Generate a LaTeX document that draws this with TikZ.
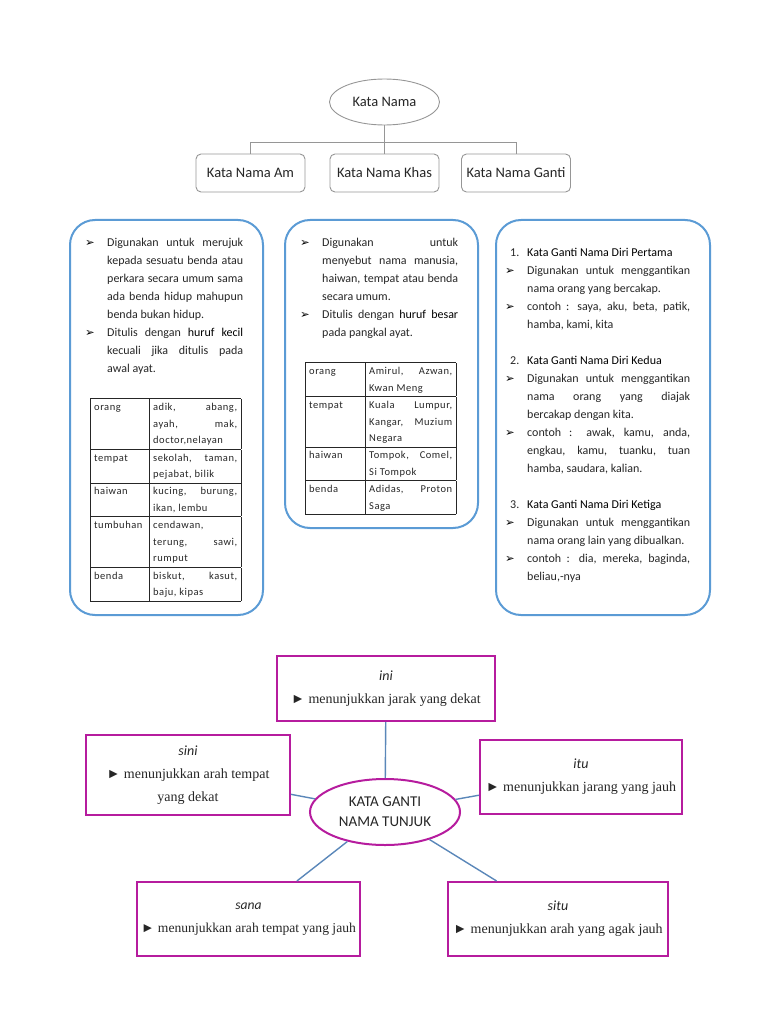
\documentclass[tikz,border=0pt]{standalone}
\usepackage{fontspec}
\setmainfont{Carlito}
\newfontfamily\timesfont{Liberation Serif}
\newfontfamily\arrowfont{DejaVu Sans}
\newfontfamily\tablefont[LetterSpace=5]{Carlito}
\usetikzlibrary{shapes.geometric}
\definecolor{linegrey}{RGB}{150,150,150}
\definecolor{panelblue}{RGB}{91,155,213}
\definecolor{tunjukpink}{RGB}{182,28,158}
\definecolor{linkblue}{RGB}{90,135,185}
\tikzset{
  panel/.style={rectangle, rounded corners=25pt, draw=panelblue, line width=2pt, inner sep=0pt},
  tunjuk/.style={rectangle, draw=tunjukpink, line width=2pt, align=center, text=black!85,
                 font=\timesfont\fontsize{14}{23}\selectfont},
  link/.style={draw=linkblue, line width=1.4pt},
}
\newcommand{\pointer}{\hspace*{-22pt}\makebox[22pt][l]{\color{black}\arrowfont\fontsize{11.5}{11.5}\selectfont ➢}}
\newcommand{\nombor}[1]{\hspace*{-17pt}\makebox[17pt][l]{#1}}
\newcommand{\penting}[1]{{\color{black}#1}}
\hyphenpenalty=10000
\exhyphenpenalty=10000
\begin{document}
\begin{tikzpicture}[x=1pt, y=-1pt,
        kind/.style={rectangle, rounded corners=5pt, draw=linegrey, line width=0.9pt, minimum width=109pt,
                     minimum height=38pt, text=black!85, font=\fontsize{14.5}{17}\selectfont},
        info/.style={anchor=north west, inner sep=0pt, align=justify, text=black!85, font=\fontsize{12}{18}\selectfont},
        grid/.style={anchor=north west, inner sep=0pt, text=black!85, font=\tablefont\fontsize{10.5}{16.5}\selectfont},
        branch/.style={draw=linegrey, line width=0.9pt}
    ]
    \useasboundingbox (0,0) rectangle (768,1024);

    % Kata Nama tree
    \node[ellipse, draw=linegrey, line width=0.9pt, minimum width=110pt, minimum height=46pt,
          text=black!85, font=\fontsize{14.5}{17}\selectfont] (kataNama) at (384.5,102) {Kata Nama};
    \node[kind] (namaAm) at (250.5,173) {Kata Nama Am};
    \node[kind] (namaKhas) at (384.5,173) {Kata Nama Khas};
    \node[kind] (namaGanti) at (516,173) {Kata Nama Ganti};
    \coordinate (split) at (384.5,142);
    \draw[branch] (kataNama) -- (namaKhas);
    \draw[branch] (split) -| (namaAm);
    \draw[branch] (split) -| (namaGanti);

    % Panels
    \node[panel, minimum width=193pt, minimum height=395pt] (panelAm) at (166.5,417.5) {};
    \node[panel, minimum width=193pt, minimum height=308pt] (panelKhas) at (381.5,374) {};
    \node[panel, minimum width=214pt, minimum height=395pt] (panelGanti) at (603,417.5) {};

    % Kata Nama Am
    \node[info, text width=158pt] (amText) at (85,238) {\parindent=0pt\leftskip=22pt
        \pointer Digunakan untuk merujuk\linebreak kepada sesuatu benda atau\linebreak
        perkara secara umum sama\linebreak ada benda hidup mahupun\linebreak benda bukan hidup.\par
        \pointer Ditulis dengan \penting{huruf kecil}\linebreak kecuali jika ditulis pada\linebreak awal ayat.\par};
    \node[grid] (amTable) at (90,398) {\arrayrulewidth=0.9pt\tabcolsep=4pt
        \begin{tabular}{|p{51pt}|p{84pt}|}
        \hline
        orang & adik, abang,\linebreak ayah, mak,\linebreak doctor,nelayan\\ \hline
        tempat & sekolah, taman,\linebreak pejabat, bilik\\ \hline
        haiwan & kucing, burung,\linebreak ikan, lembu\\ \hline
        tumbuhan & cendawan,\newline terung, sawi,\linebreak rumput\\ \hline
        benda & biskut, kasut,\linebreak baju, kipas\\ \hline
        \end{tabular}};

    % Kata Nama Khas
    \node[info, text width=158pt] (khasText) at (300,238) {\parindent=0pt\leftskip=22pt
        \pointer Digunakan untuk\linebreak menyebut nama manusia,\linebreak
        haiwan, tempat atau benda\linebreak secara umum.\par
        \pointer Ditulis dengan \penting{huruf besar}\linebreak pada pangkal ayat.\par};
    \node[grid] (khasTable) at (305,362) {\arrayrulewidth=0.9pt\tabcolsep=4pt
        \begin{tabular}{|p{52pt}|p{83pt}|}
        \hline
        orang & Amirul, Azwan,\linebreak Kwan Meng\\ \hline
        tempat & Kuala Lumpur,\linebreak Kangar, Muzium\linebreak Negara\\ \hline
        haiwan & Tompok, Comel,\linebreak Si Tompok\\ \hline
        benda & Adidas, Proton\linebreak Saga\\ \hline
        \end{tabular}};

    % Kata Nama Ganti
    \node[info, text width=185pt] (gantiText) at (505,248.5) {\parindent=0pt\leftskip=22pt
        \nombor{1.}\penting{Kata Ganti Nama Diri Pertama}\par
        \pointer Digunakan untuk menggantikan\linebreak nama orang yang bercakap.\par
        \pointer contoh : saya, aku, beta, patik,\linebreak hamba, kami, kita\par
        \vspace{18pt}
        \nombor{2.}\penting{Kata Ganti Nama Diri Kedua}\par
        \pointer Digunakan untuk menggantikan\linebreak nama orang yang diajak\linebreak bercakap dengan kita.\par
        \pointer contoh : awak, kamu, anda,\linebreak engkau, kamu, tuanku, tuan\linebreak hamba, saudara, kalian.\par
        \vspace{18pt}
        \nombor{3.}\penting{Kata Ganti Nama Diri Ketiga}\par
        \pointer Digunakan untuk menggantikan\linebreak nama orang lain yang dibualkan.\par
        \pointer contoh : dia, mereka, baginda,\linebreak beliau,-nya\par};

    % Kata Ganti Nama Tunjuk
    \node[ellipse, draw=tunjukpink, line width=2pt, minimum width=150pt, minimum height=66pt, align=center,
          text=black!85, font=\fontsize{15}{20}\selectfont] (pusat) at (385,812) {KATA GANTI\\NAMA TUNJUK};
    \node[tunjuk, minimum width=218pt, minimum height=65pt] (ini) at (386,688.5)
        {{\normalfont\itshape ini}\\► menunjukkan jarak yang dekat};
    \node[tunjuk, minimum width=204pt, minimum height=80pt] (sini) at (188,775)
        {{\normalfont\itshape sini}\\► menunjukkan arah tempat\\yang dekat};
    \node[tunjuk, minimum width=202pt, minimum height=74pt] (itu) at (581,777)
        {{\normalfont\itshape itu}\\► menunjukkan jarang yang jauh};
    \node[tunjuk, minimum width=223pt, minimum height=74pt, font=\timesfont\fontsize{13.6}{23}\selectfont] (sana) at (248.5,919)
        {{\normalfont\itshape sana}\\► menunjukkan arah tempat yang jauh};
    \node[tunjuk, minimum width=220pt, minimum height=74pt] (situ) at (558,919)
        {{\normalfont\itshape situ}\\► menunjukkan arah yang agak jauh};

    \draw[link] (ini) -- (pusat);
    \draw[link] (sini) -- (pusat);
    \draw[link] (itu) -- (pusat);
    \draw[link] (sana) -- (pusat);
    \draw[link] (situ) -- (pusat);

\end{tikzpicture}
\end{document}
